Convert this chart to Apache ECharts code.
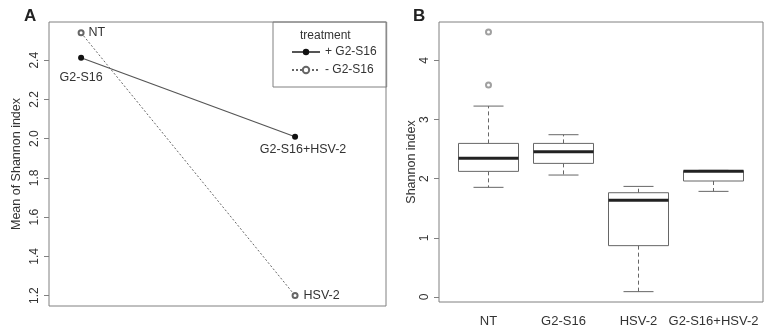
<!DOCTYPE html>
<html>
<head>
<meta charset="utf-8">
<script src="https://cdn.jsdelivr.net/npm/echarts@6/dist/echarts.min.js"></script>
<style>
  html, body {margin: 0; padding: 0; background: #fff;}
  #chart {width: 780px; height: 335px;}
</style>
</head>
<body>
<div id="chart"></div>
<script>
// panel A: interaction plot (means)
const treatments = ['+ G2-S16', '- G2-S16'];
const plusNames = ['G2-S16', 'G2-S16+HSV-2'];
const plusMeans = [2.413, 2.01];
const minusNames = ['NT', 'HSV-2'];
const minusMeans = [2.54, 1.2];
const meanTicks = [1.2, 1.4, 1.6, 1.8, 2.0, 2.2, 2.4];

// panel B: boxplots  [low, q1, median, q3, high]
const groups = ['NT', 'G2-S16', 'HSV-2', 'G2-S16+HSV-2'];
const boxStats = [
  [1.854, 2.124, 2.344, 2.597, 3.228],
  [2.062, 2.259, 2.456, 2.597, 2.744],
  [0.090, 0.868, 1.634, 1.763, 1.870],
  [1.786, 1.961, 2.124, 2.134, 2.141]
];
const outliers = [['NT', 4.479], ['NT', 3.583]];
const shannonTicks = [0, 1, 2, 3, 4];

const font = 'Liberation Sans, Arial, sans-serif';
const txt = '#333';
const frame = '#808080';

const chart = echarts.init(document.getElementById('chart'));

const labelPosA = {
  'NT': {position: 'right', distance: 4},
  'G2-S16': {position: 'bottom', distance: 10},
  'G2-S16+HSV-2': {position: 'bottom', distance: 3, offset: [8, 0]},
  'HSV-2': {position: 'right', distance: 5}
};
const pts = (names, vals) => names.map((n, i) => ({
  name: n, value: [i + 1, vals[i]], label: labelPosA[n]
}));

chart.setOption({
  animation: false,
  textStyle: {fontFamily: font, color: txt},
  title: [
    {text: 'A', left: 19, top: 3, textStyle: {fontSize: 17, fontWeight: 'bold', color: '#222', fontFamily: font}},
    {text: 'B', left: 408, top: 3, textStyle: {fontSize: 17, fontWeight: 'bold', color: '#222', fontFamily: font}},
    {text: 'treatment', left: 295, top: 25, textStyle: {fontSize: 12, fontWeight: 'normal', color: txt, fontFamily: font}}
  ],
  legend: {
    orient: 'vertical',
    left: 273, top: 22,
    padding: [24, 10, 11, 18],
    itemGap: 6,
    itemWidth: 28, itemHeight: 8,
    borderColor: frame, borderWidth: 1,
    data: treatments,
    textStyle: {fontSize: 12, color: txt, fontFamily: font}
  },
  grid: [
    {left: 49, top: 22, width: 337, height: 284, show: true, borderColor: frame, borderWidth: 1, backgroundColor: 'transparent'},
    {left: 439, top: 22, width: 324, height: 280, show: true, borderColor: frame, borderWidth: 1, backgroundColor: 'transparent'},
    {left: 451, top: 22, width: 300, height: 280}
  ],
  xAxis: [
    {gridIndex: 0, type: 'value', min: 0.85, max: 2.425, show: false},
    {gridIndex: 1, type: 'value', min: 0, max: 1, show: false},
    {
      gridIndex: 2, type: 'category', data: groups,
      axisLine: {show: false},
      axisTick: {alignWithLabel: true, length: 6, lineStyle: {color: frame}},
      axisLabel: {interval: 0, fontSize: 13, color: txt, margin: 13}
    }
  ],
  yAxis: [
    {
      gridIndex: 0, type: 'value', min: 1.147, max: 2.595,
      name: 'Mean of Shannon index', nameLocation: 'middle', nameGap: 26,
      nameTextStyle: {fontSize: 12.5, color: txt},
      axisLine: {show: false}, splitLine: {show: false},
      axisTick: {customValues: meanTicks, length: 5, lineStyle: {color: frame}},
      axisLabel: {customValues: meanTicks, rotate: 90, fontSize: 12, color: txt, margin: 8,
        formatter: v => v.toFixed(1)}
    },
    {
      gridIndex: 1, type: 'value', min: -0.085, max: 4.65,
      name: 'Shannon index', nameLocation: 'middle', nameGap: 21,
      nameTextStyle: {fontSize: 12.5, color: txt},
      axisLine: {show: false}, splitLine: {show: false},
      axisTick: {customValues: shannonTicks, length: 5, lineStyle: {color: frame}},
      axisLabel: {customValues: shannonTicks, rotate: 90, fontSize: 12, color: txt, margin: 8}
    },
    {gridIndex: 2, type: 'value', min: -0.085, max: 4.65, show: false}
  ],
  series: [
    {
      name: '+ G2-S16', type: 'line', xAxisIndex: 0, yAxisIndex: 0,
      data: pts(plusNames, plusMeans),
      symbol: 'circle', symbolSize: 6,
      itemStyle: {color: '#111'},
      lineStyle: {color: '#555', width: 1.2},
      label: {show: true, formatter: '{b}', fontSize: 12.5, color: txt}
    },
    {
      name: '- G2-S16', type: 'line', xAxisIndex: 0, yAxisIndex: 0,
      data: pts(minusNames, minusMeans),
      symbol: 'emptyCircle', symbolSize: 5,
      itemStyle: {color: '#666', borderWidth: 1},
      lineStyle: {color: '#666', width: 1, type: [2, 2]},
      label: {show: true, formatter: '{b}', fontSize: 12.5, color: txt}
    },
    {
      type: 'custom', xAxisIndex: 2, yAxisIndex: 2,
      data: boxStats.map((s, i) => [i].concat(s)),
      renderItem: (params, api) => {
        const i = api.value(0);
        const low = api.coord([i, api.value(1)]);
        const q1 = api.coord([i, api.value(2)]);
        const med = api.coord([i, api.value(3)]);
        const q3 = api.coord([i, api.value(4)]);
        const high = api.coord([i, api.value(5)]);
        const hw = api.size([1, 0])[0] * 0.4;
        const cx = q1[0];
        const dash = {stroke: '#666', lineWidth: 1, lineDash: [4, 3]};
        const solid = {stroke: '#666', lineWidth: 1};
        return {
          type: 'group',
          children: [
            {type: 'line', shape: {x1: cx, y1: q3[1], x2: cx, y2: high[1]}, style: dash},
            {type: 'line', shape: {x1: cx, y1: q1[1], x2: cx, y2: low[1]}, style: dash},
            {type: 'line', shape: {x1: cx - hw / 2, y1: high[1], x2: cx + hw / 2, y2: high[1]}, style: solid},
            {type: 'line', shape: {x1: cx - hw / 2, y1: low[1], x2: cx + hw / 2, y2: low[1]}, style: solid},
            {type: 'rect', shape: {x: cx - hw, y: q3[1], width: 2 * hw, height: q1[1] - q3[1]},
              style: {fill: '#fff', stroke: '#666', lineWidth: 1}},
            {type: 'line', shape: {x1: cx - hw, y1: med[1], x2: cx + hw, y2: med[1]},
              style: {stroke: '#222', lineWidth: 3}}
          ]
        };
      }
    },
    {
      type: 'scatter', xAxisIndex: 2, yAxisIndex: 2,
      data: outliers,
      symbol: 'emptyCircle', symbolSize: 5,
      itemStyle: {color: '#888', borderWidth: 1}
    }
  ]
});
</script>
</body>
</html>
